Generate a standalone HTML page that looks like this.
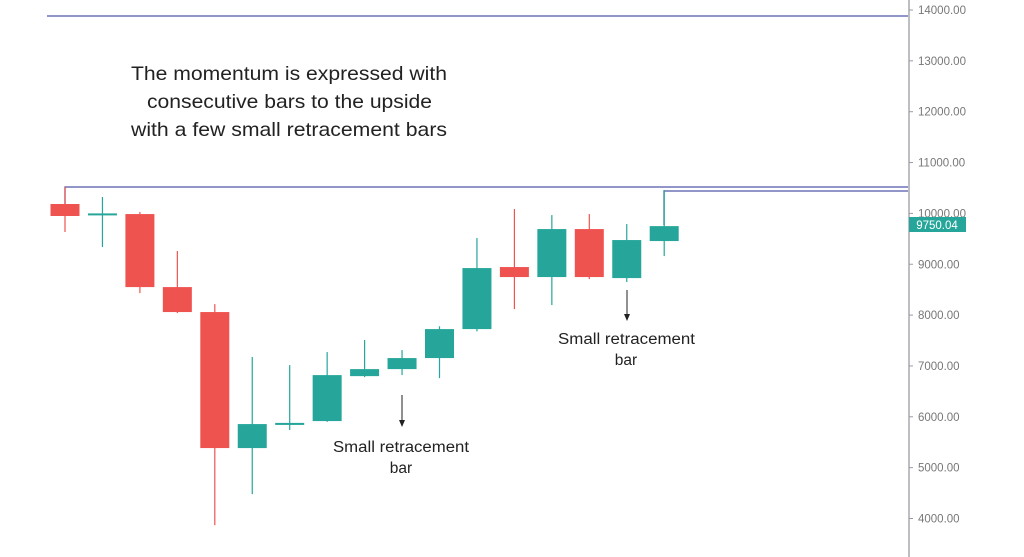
<!DOCTYPE html>
<html><head><meta charset="utf-8"><style>
html,body{margin:0;padding:0;background:#fff;}
svg{display:block;font-family:"Liberation Sans",sans-serif;}
</style></head><body>
<svg id="chart" width="1024" height="557" viewBox="0 0 1024 557" xmlns="http://www.w3.org/2000/svg">
<rect width="1024" height="557" fill="#fff"/>
<line x1="909" y1="0" x2="909" y2="557" stroke="#9a9aa6" stroke-width="1.3"/>
<line x1="47" y1="16" x2="908" y2="16" stroke="#4f56a6" stroke-width="1.3"/>
<polyline points="65,204 65,187 908,187" fill="none" stroke="#4f56a6" stroke-width="1.3"/>
<polyline points="664,225 664,191 908,191" fill="none" stroke="#4f56a6" stroke-width="1.3"/>
<g id="axis"></g>
<g id="candles"></g>
<text x="131" y="80" font-size="19.5" textLength="316" lengthAdjust="spacingAndGlyphs" fill="#222">The momentum is expressed with</text>
<text x="147" y="108" font-size="19.5" textLength="285" lengthAdjust="spacingAndGlyphs" fill="#222">consecutive bars to the upside</text>
<text x="131" y="136" font-size="19.5" textLength="316" lengthAdjust="spacingAndGlyphs" fill="#222">with a few small retracement bars</text>
<line x1="402" y1="395" x2="402" y2="421" stroke="#222" stroke-width="1"/>
<polygon points="399,420 405,420 402,427" fill="#222"/>
<text x="333" y="452" font-size="15.5" textLength="136" lengthAdjust="spacingAndGlyphs" fill="#222">Small retracement</text>
<text x="401" y="473" font-size="15.5" text-anchor="middle" fill="#222">bar</text>
<line x1="627" y1="290" x2="627" y2="315" stroke="#222" stroke-width="1"/>
<polygon points="624,314 630,314 627,321" fill="#222"/>
<text x="558" y="344" font-size="15.5" textLength="137" lengthAdjust="spacingAndGlyphs" fill="#222">Small retracement</text>
<text x="626" y="365" font-size="15.5" text-anchor="middle" fill="#222">bar</text>
<rect x="909" y="217" width="57" height="15" fill="#26a69a"/>
<text x="937" y="229" font-size="11.5" text-anchor="middle" fill="#fff">9750.04</text>
</svg>
<script>
const opens  = [10185, 9975, 9987, 8551, 8060, 5385, 5840, 5916, 6800, 6938, 7155, 7725, 8945, 8748, 9692, 8728, 9456];
const closes = [9949, 10000, 8551, 8060, 5385, 5857, 5880, 6820, 6938, 7155, 7725, 8925, 8748, 9692, 8748, 9476, 9750];
const highs  = [10519, 10322, 10027, 9260, 8217, 7175, 7017, 7273, 7509, 7312, 7780, 9515, 10086, 9967, 9987, 9790, 10460];
const lows   = [9634, 9338, 8433, 8040, 3870, 4480, 5740, 5900, 6780, 6820, 6761, 7680, 8118, 8197, 8708, 8650, 9161];
const ticks  = [14000, 13000, 12000, 11000, 10000, 9000, 8000, 7000, 6000, 5000, 4000];
const NS="http://www.w3.org/2000/svg";
function y(v){return 10+(14000-v)*0.05085;}
function x(i){return 65+i*37.45;}
const ax=document.getElementById('axis');
ticks.forEach(t=>{
 const l=document.createElementNS(NS,'line');
 
 
 l.setAttribute('x1',909);l.setAttribute('x2',913);l.setAttribute('y1',y(t));l.setAttribute('y2',y(t));
 l.setAttribute('stroke','#9a9aa6');ax.appendChild(l);
 const tx=document.createElementNS(NS,'text');
 
 
 tx.setAttribute('x',918);tx.setAttribute('y',y(t)+4);tx.setAttribute('font-size','11.5');tx.setAttribute('fill','#777');
 tx.textContent=t.toFixed(2);ax.appendChild(tx);
});
const cg=document.getElementById('candles');
opens.forEach((o,i)=>{
 const c=closes[i],up=c>=o,col=up?'#26a69a':'#ef5350';
 const g=document.createElementNS(NS,'g');
 
 
 const w=document.createElementNS(NS,'line');
 
 
 w.setAttribute('x1',x(i));w.setAttribute('x2',x(i));w.setAttribute('y1',y(highs[i]));w.setAttribute('y2',y(lows[i]));
 w.setAttribute('stroke',col);w.setAttribute('stroke-width','1.2');g.appendChild(w);
 const r=document.createElementNS(NS,'rect');
 
 
 const top=y(Math.max(o,c)),h=Math.max(2,y(Math.min(o,c))-top);
 r.setAttribute('x',x(i)-14.5);r.setAttribute('y',top);r.setAttribute('width',29);r.setAttribute('height',h);
 r.setAttribute('fill',col);g.appendChild(r);
 cg.appendChild(g);
});
</script>
</body></html>
